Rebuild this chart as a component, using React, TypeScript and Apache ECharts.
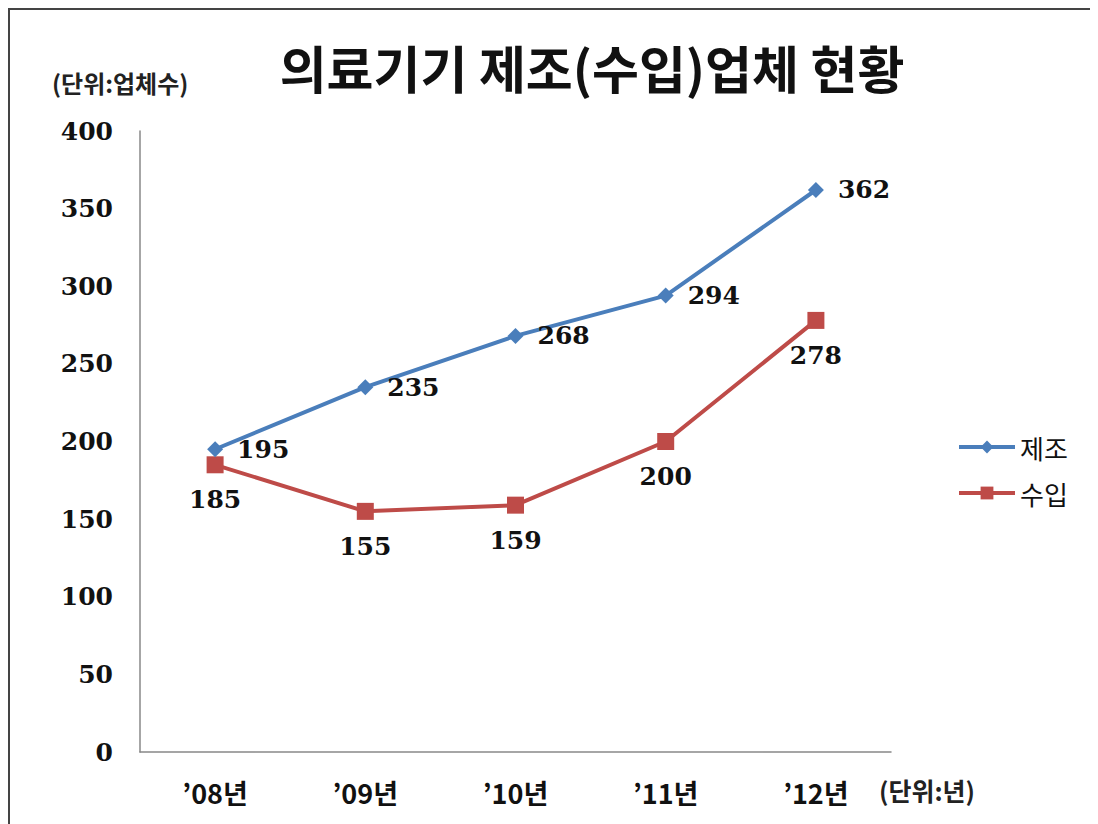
import React, { useEffect, useRef } from "react";
import * as echarts from "echarts";

const categories = ["’08년", "’09년", "’10년", "’11년", "’12년"];
const manufacture = [195, 235, 268, 294, 362];
const importers = [185, 155, 159, 200, 278];
const seriesNames = ["제조", "수입"];
const yTicks = { min: 0, max: 400, interval: 50 };

const KR = '"Noto Sans CJK KR", "Noto Sans", sans-serif';
const SERIF = '"DejaVu Serif", "Liberation Serif", serif';

export default function App() {
  const ref = useRef<HTMLDivElement>(null);
  useEffect(() => {
    if (!ref.current) return;
    const chart = echarts.init(ref.current, null, { renderer: "svg" });
    const labelStyle = {
      show: true,
      fontFamily: SERIF,
      fontWeight: "bold" as const,
      fontSize: 25,
      color: "#111",
    };
    chart.setOption({
      animation: false,
      backgroundColor: "#fff",
      title: {
        text: "의료기기 제조(수입)업체 현황",
        left: 577,
        top: 26,
        textAlign: "center",
        textStyle: { fontFamily: KR, fontWeight: "bold", fontSize: 51, color: "#111" },
      },
      graphic: [
        {
          type: "text",
          left: 42,
          top: 60,
          style: { text: "(단위:업체수)", fontFamily: KR, fontWeight: "bold", fontSize: 24, fill: "#222" },
        },
        {
          type: "text",
          left: 869,
          top: 767,
          style: { text: "(단위:년)", fontFamily: KR, fontWeight: "bold", fontSize: 25, fill: "#222" },
        },
      ],
      legend: {
        orient: "vertical",
        left: 942,
        top: 419,
        itemGap: 20,
        itemWidth: 56,
        itemHeight: 16,
        lineStyle: { width: 4 },
        textStyle: { fontFamily: KR, fontSize: 26, color: "#111" },
        data: seriesNames,
      },
      grid: { left: 130, top: 121, width: 751, height: 621, containLabel: false },
      xAxis: {
        type: "category",
        data: categories,
        boundaryGap: true,
        axisLine: { lineStyle: { color: "#888", width: 1.5 } },
        axisTick: { show: false },
        axisLabel: {
          margin: 27,
          fontFamily: KR,
          fontWeight: "bold",
          fontSize: 27,
          color: "#111",
        },
      },
      yAxis: {
        type: "value",
        min: yTicks.min,
        max: yTicks.max,
        interval: yTicks.interval,
        axisLine: { show: true, lineStyle: { color: "#888", width: 1.5 } },
        axisTick: { show: false },
        splitLine: { show: false },
        axisLabel: {
          margin: 27,
          fontFamily: SERIF,
          fontWeight: "bold",
          fontSize: 25,
          color: "#111",
        },
      },
      series: [
        {
          name: seriesNames[0],
          type: "line",
          data: manufacture,
          symbol: "diamond",
          symbolSize: 16,
          color: "#4A7EBB",
          lineStyle: { width: 4, color: "#4A7EBB" },
          itemStyle: { color: "#4A7EBB" },
          label: { ...labelStyle, position: "right", distance: 14 },
          z: 3,
        },
        {
          name: seriesNames[1],
          type: "line",
          data: importers,
          symbol: "rect",
          symbolSize: 17,
          color: "#BE4B48",
          lineStyle: { width: 4, color: "#BE4B48" },
          itemStyle: { color: "#BE4B48" },
          label: { ...labelStyle, position: "bottom", distance: 14 },
          z: 2,
        },
      ],
    });
    return () => chart.dispose();
  }, []);
  return (
    <div
      style={{
        width: 1088,
        height: 814,
        borderLeft: "2px solid #444",
        borderTop: "2px solid #444",
        background: "#fff",
      }}
    >
      <div ref={ref} style={{ width: 1088, height: 814 }} />
    </div>
  );
}
